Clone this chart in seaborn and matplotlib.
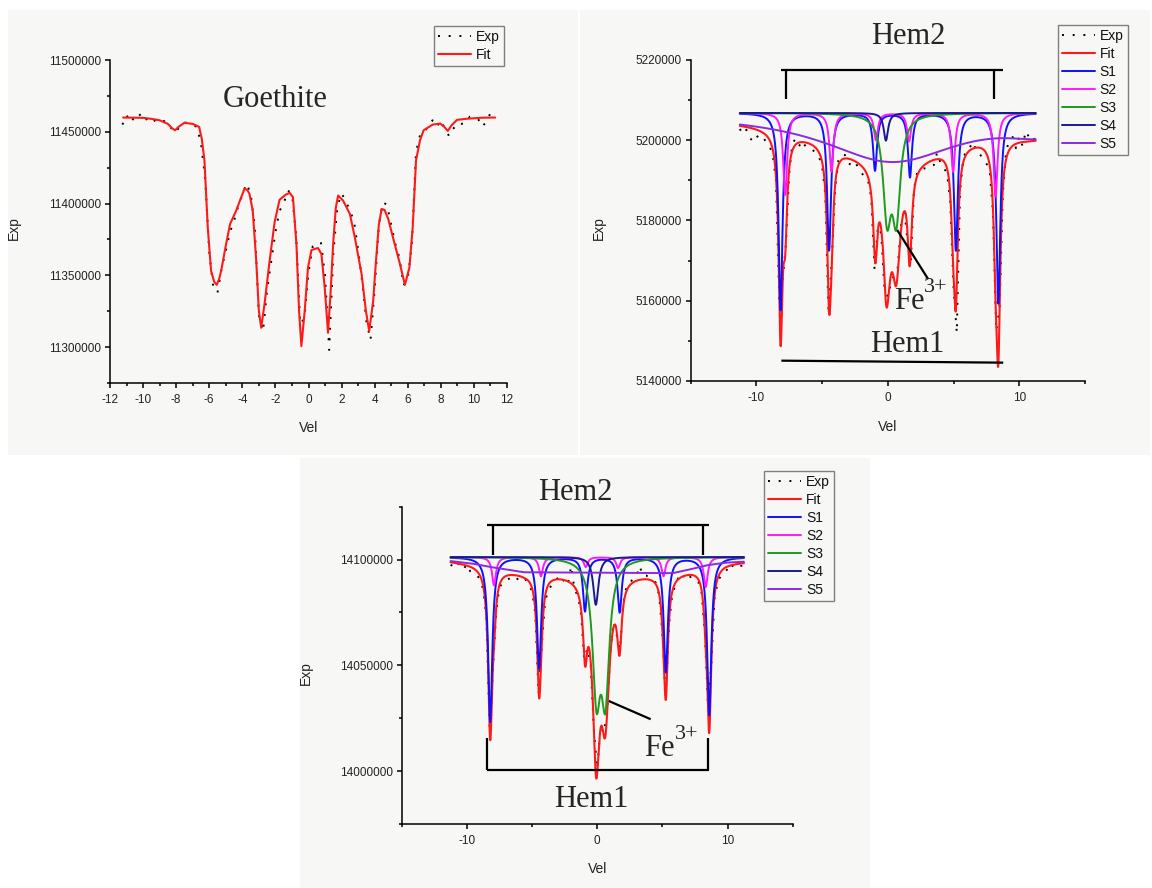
import numpy as np
import matplotlib
matplotlib.use("Agg")
import matplotlib.pyplot as plt
import seaborn as sns
from matplotlib.patches import Rectangle
from matplotlib.ticker import MultipleLocator

# ---------------- Panel A: Goethite ----------------
goe_fit_vel = [-11.21, -10.0, -9.5, -9.0, -8.5, -8.25, -8.07, -7.85, -7.51, -7.0, -6.61, -6.45,
               -6.29, -6.09, -5.89, -5.70, -5.55, -5.40, -5.28, -4.98, -4.74, -4.37, -4.10, -3.87,
               -3.70, -3.57, -3.37, -3.16, -3.00, -2.86, -2.66, -2.35, -2.05, -1.75, -1.40, -1.14,
               -0.94, -0.73, -0.57, -0.43, -0.23, -0.03, 0.18, 0.40, 0.58, 0.78, 0.98, 1.18, 1.33,
               1.49, 1.65, 1.79, 2.09, 2.50, 2.80, 3.21, 3.47, 3.67, 3.91, 4.08, 4.25, 4.42, 4.60,
               4.82, 5.13, 5.53, 5.83, 6.10, 6.30, 6.50, 6.74, 6.96, 7.50, 7.97, 8.20, 8.42, 8.65,
               8.98, 9.50, 10.5, 11.29]
goe_fit_val = [11459930, 11459700, 11459000, 11458000, 11455500, 11452500, 11451050, 11453500,
               11456200, 11455500, 11453400, 11445000, 11430070, 11383430, 11353150, 11345500,
               11343360, 11347500, 11353150, 11371820, 11385800, 11395100, 11403500, 11410280,
               11409500, 11406780, 11395100, 11360140, 11325180, 11313500, 11329850, 11360140,
               11386930, 11402600, 11406000, 11407480, 11404410, 11371820, 11325180, 11300700,
               11325180, 11355470, 11367600, 11368500, 11369000, 11364800, 11341460, 11310000,
               11336840, 11371820, 11397000, 11405600, 11402100, 11392800, 11376450, 11350830,
               11325180, 11311190, 11332170, 11360140, 11385000, 11396280, 11395500, 11389290,
               11375300, 11357810, 11343360, 11355470, 11383430, 11430070, 11444050, 11451050,
               11455000, 11455700, 11453500, 11450600, 11454500, 11458300, 11459000, 11459800,
               11459930]
goe_exp_val = [11455000, 11461500, 11456500, 11460500, 11463000, 11457500, 11459000, 11460500,
               11457000, 11456000, 11457500, 11456500, 11451500, 11449500, 11455000, 11456500,
               11456000, 11454500, 11453500, 11442000, 11418000, 11366000, 11341000, 11338000,
               11355000, 11367000, 11380000, 11388000, 11398000, 11406000, 11414000, 11407000,
               11384000, 11322000, 11311000, 11340000, 11360000, 11380000, 11395000, 11400000,
               11409000, 11407000, 11378000, 11316000, 11320000, 11352000, 11370000, 11371000,
               11373000, 11350000, 11298000, 11365000, 11398000, 11407000, 11402000, 11395000,
               11388000, 11368000, 11345000, 11318000, 11305000, 11340000, 11385000, 11401000,
               11399000, 11385000, 11372000, 11362000, 11343000, 11348000, 11372000, 11436000,
               11448000, 11449000, 11455000, 11458000, 11453500, 11458000, 11452000, 11447000,
               11452000, 11456000, 11455500, 11456000, 11460500, 11459500, 11459000, 11453500,
               11457000, 11463000, 11459000]

# velocity channels of the measured spectra (-11.25 ... 11.25 mm/s, 91 channels)
exp_vel = np.round(np.arange(-11.25, 11.26, 0.25), 2)

# ---------------- Panel B: hematite sample 1 ----------------
b_base = 5206800
b_s1_pos = [-8.15, -4.46, -0.97, 1.69, 5.18, 8.41]
b_s1_dep = [49100, 34150, 14200, 15870, 34150, 47440]
b_s2_pos = [-7.80, -4.28, -0.90, 1.62, 4.97, 8.20]
b_s2_dep = [20400, 14600, 6700, 7000, 14600, 20800]
b_s3_pos = [-0.05, 0.65]
b_s3_dep = [23950, 23950]
b_s4_pos = [-0.14]
b_s4_dep = [6900]
b_s5_pos = [0.3, 11.5]
b_s5_dep = [12000, 3500]
b_hw = {"S1": 0.18, "S2": 0.18, "S3": 0.37, "S4": 0.20, "S5": [6.4, 3.0]}
b_exp_val = [5202800, 5201500, 5202600, 5200600, 5199800, 5201200, 5200400, 5200900, 5199500,
             5198600, 5196500, 5190000, 5160500, 5165000, 5173800, 5191500, 5199500, 5200200,
             5198500, 5199900, 5198400, 5198000, 5197800, 5196800, 5196000, 5193800, 5186500,
             5156500, 5170500, 5188000, 5195000, 5196400, 5196300, 5194200, 5193900, 5194700,
             5193200, 5192000, 5190600, 5190000, 5185600, 5167500, 5178500, 5176800, 5163000,
             5161000, 5164500, 5166500, 5168000, 5178500, 5183000, 5175000, 5169500, 5188000,
             5192200, 5192300, 5193000, 5192900, 5193600, 5193800, 5196900, 5194500, 5193200,
             5191800, 5185000, 5163500, 5152000, 5187500, 5195500, 5197800, 5198300, 5199600,
             5197000, 5196500, 5195500, 5194200, 5192500, 5182000, 5152500, 5158000, 5186500,
             5197500, 5199800, 5200800, 5198000, 5200900, 5198600, 5202300, 5200700, 5201300,
             5199400]

# ---------------- Panel C: hematite sample 2 ----------------
c_base = 14101200
c_s1_pos = [-8.21, -4.46, -0.94, 1.72, 5.26, 8.59]
c_s1_dep = [77770, 52620, 25420, 25900, 54190, 74620]
c_s2_pos = [-7.92, -4.32, -0.88, 1.60, 5.08, 8.32]
c_s2_dep = [13320, 9070, 4670, 5150, 9070, 14100]
c_s3_pos = [-0.06, 0.62]
c_s3_dep = [60000, 60000]
c_s4_pos = [-0.11]
c_s4_dep = [22570]
c_s5_vel = [-11.25, -9.5, -8.0, -5.6, 5.8, 7.2, 8.5, 9.8, 11.25]
c_s5_val = [14099300, 14098000, 14096300, 14094000, 14093600, 14095500, 14097400, 14098500, 14099000]
c_hw = {"S1": 0.19, "S2": 0.18, "S3": 0.37, "S4": 0.24}
c_exp_val = [14097500, 14096800, 14099000, 14096000, 14095500, 14097800, 14094500, 14093800,
             14093000, 14090500, 14086000, 14072500, 14019500, 14048500, 14075800, 14087000,
             14089000, 14090500, 14091000, 14092000, 14090500, 14091200, 14089500, 14090500,
             14088200, 14085000, 14074500, 14036500, 14060000, 14080500, 14085500, 14088000,
             14089500, 14091500, 14089000, 14090800, 14088500, 14097000, 14086000, 14083000,
             14075500, 14053000, 14058000, 14050000, 14018500, 14001000, 14021000, 14018000,
             14028000, 14056000, 14070500, 14064000, 14057500, 14079500, 14087500, 14089500,
             14090500, 14091800, 14097000, 14092300, 14092500, 14091500, 14090500, 14089000,
             14083000, 14065000, 14035000, 14069000, 14083500, 14088000, 14092000, 14090500,
             14093500, 14091500, 14092000, 14090800, 14089500, 14084500, 14066000, 14030000,
             14050500, 14082000, 14089500, 14092800, 14094000, 14095500, 14098200, 14095800,
             14096500, 14097000, 14097200]

sub_colors = {"Fit": "#ff1a1a", "S1": "#1010ff", "S2": "#ff19ff", "S3": "#1f9a1f",
              "S4": "#1a1a8c", "S5": "#8a2be2"}


def absorption(v, pos, dep, hw):
    hws = hw if isinstance(hw, (list, tuple)) else [hw] * len(pos)
    total = np.zeros_like(v, dtype=float)
    for p, d, h in zip(pos, dep, hws):
        total += d / (1.0 + ((v - p) / h) ** 2)
    return total


vfine = np.linspace(-11.25, 11.25, 2251)

bS = {
    "S1": absorption(vfine, b_s1_pos, b_s1_dep, b_hw["S1"]),
    "S2": absorption(vfine, b_s2_pos, b_s2_dep, b_hw["S2"]),
    "S3": absorption(vfine, b_s3_pos, b_s3_dep, b_hw["S3"]),
    "S4": absorption(vfine, b_s4_pos, b_s4_dep, b_hw["S4"]),
    "S5": absorption(vfine, b_s5_pos, b_s5_dep, b_hw["S5"]),
}
b_fit = b_base - sum(bS.values())

cS = {
    "S1": absorption(vfine, c_s1_pos, c_s1_dep, c_hw["S1"]),
    "S2": absorption(vfine, c_s2_pos, c_s2_dep, c_hw["S2"]),
    "S3": absorption(vfine, c_s3_pos, c_s3_dep, c_hw["S3"]),
    "S4": absorption(vfine, c_s4_pos, c_s4_dep, c_hw["S4"]),
}
c_s5_line = np.interp(vfine, c_s5_vel, c_s5_val)
c_fit = c_s5_line - sum(cS.values())

# ---------------- Figure ----------------
sns.set_theme(style="ticks")
plt.rcParams["font.family"] = ["Liberation Sans", "DejaVu Sans"]
plt.rcParams["axes.linewidth"] = 1.1
plt.rcParams["axes.unicode_minus"] = False

W, H = 1152, 888
fig = plt.figure(figsize=(W / 100, H / 100), dpi=100)
fig.patch.set_facecolor("white")
bg = "#f7f8f5"
for (x0, y0, x1, y1) in [(8, 10, 578, 455), (580, 10, 1150, 455), (300, 458, 870, 888)]:
    fig.patches.append(Rectangle((x0 / W, 1 - y1 / H), (x1 - x0) / W, (y1 - y0) / H,
                                 transform=fig.transFigure, facecolor=bg, edgecolor="none",
                                 zorder=-10))


def px_axes(l, r, b, t):
    a = fig.add_axes([l / W, 1 - b / H, (r - l) / W, (b - t) / H])
    a.set_zorder(5)
    return a


ax1 = px_axes(110, 507, 383, 60)
ax2 = px_axes(690.5, 1085, 381, 60)
ax3 = px_axes(401.7, 792.8, 824, 506.7)

serif = ["Liberation Serif", "DejaVu Serif"]
EXP_LS = (0, (1, 4.5))


def style_axes(ax, xlim, ylim, xmaj, xmin, ymaj, ymin, ylab_xy, xlab_xy):
    ax.set_facecolor("none")
    ax.set_xlim(*xlim)
    ax.set_ylim(*ylim)
    ax.xaxis.set_major_locator(MultipleLocator(xmaj))
    ax.xaxis.set_minor_locator(MultipleLocator(xmin))
    ax.yaxis.set_major_locator(MultipleLocator(ymaj))
    ax.yaxis.set_minor_locator(MultipleLocator(ymin))
    ax.ticklabel_format(axis="y", style="plain", useOffset=False)
    for s in ["top", "right"]:
        ax.spines[s].set_visible(False)
    for s in ["left", "bottom"]:
        ax.spines[s].set_color("black")
        ax.spines[s].set_linewidth(1.1)
    ax.tick_params(which="major", direction="out", length=3.8, width=1.1, colors="black",
                   labelsize=8.5, labelcolor="#222222")
    ax.tick_params(which="minor", direction="out", length=2.2, width=1.1, colors="black")
    ax.tick_params(axis="x", which="major", pad=4)
    ax.tick_params(axis="y", which="major", pad=2.5)
    ax.set_xlabel("Vel", fontsize=10, color="#222222")
    ax.set_ylabel("Exp", fontsize=10, color="#222222")
    ax.yaxis.set_label_coords(*ylab_xy)
    ax.xaxis.set_label_coords(*xlab_xy)


def add_legend(ax, anchor_px):
    leg = ax.legend(loc="upper left", bbox_to_anchor=(anchor_px[0] / W, 1 - anchor_px[1] / H),
                    bbox_transform=fig.transFigure, borderaxespad=0, frameon=True, fancybox=False,
                    fontsize=10, handlelength=2.35, handletextpad=0.35, labelspacing=0.28,
                    borderpad=0.3, framealpha=1)
    leg.get_frame().set_edgecolor("#808080")
    leg.get_frame().set_linewidth(1.0)
    leg.get_frame().set_facecolor(bg)
    for t in leg.get_texts():
        t.set_color("#111111")
    return leg


def fe3(ax, x, y):
    fe = ax.text(x, y, "Fe", family=serif, fontsize=22, ha="left", va="center")
    ax.annotate("3+", xy=(1.0, 0.98), xycoords=fe, family=serif, fontsize=16,
                ha="left", va="center")


# ---- Panel A ----
sns.lineplot(x=exp_vel, y=goe_exp_val, ax=ax1, color="black", lw=1.4, label="Exp",
             linestyle=EXP_LS, sort=False, estimator=None)
sns.lineplot(x=goe_fit_vel, y=goe_fit_val, ax=ax1, color=sub_colors["Fit"], lw=1.5, label="Fit",
             sort=False, estimator=None)
style_axes(ax1, (-12, 12), (11275000, 11500000), 2, 1, 50000, 25000, (-0.2236, 0.48), (0.5, -0.1167))
add_legend(ax1, (434, 26))
ax1.text(-2.0, 11472700, "Goethite", family=serif, fontsize=22, ha="center", va="center")

# ---- Panel B ----
sns.lineplot(x=exp_vel, y=b_exp_val, ax=ax2, color="black", lw=1.4, label="Exp",
             linestyle=EXP_LS, sort=False, estimator=None)
sns.lineplot(x=vfine, y=b_fit, ax=ax2, color=sub_colors["Fit"], lw=1.5, label="Fit",
             sort=False, estimator=None)
for k in ["S1", "S2", "S3", "S4", "S5"]:
    sns.lineplot(x=vfine, y=b_base - bS[k], ax=ax2, color=sub_colors[k], lw=1.4, label=k,
                 sort=False, estimator=None)
style_axes(ax2, (-15, 15), (5140000, 5220000), 10, 5, 20000, 10000, (-0.2134, 0.477), (0.5, -0.1215))
add_legend(ax2, (1058, 25))
kw = dict(color="black", lw=1.6, clip_on=False, solid_capstyle="butt")
ax2.plot([-8.09, 8.78], [5217430, 5217430], **kw)
ax2.plot([-7.75, -7.75], [5217430, 5210200], **kw)
ax2.plot([8.09, 8.09], [5217430, 5210200], **kw)
ax2.plot([-8.09, 8.78], [5145070, 5144570], **kw)
ax2.plot([0.72, 3.08], [5177630, 5165350], **kw)
ax2.text(1.57, 5225800, "Hem2", family=serif, fontsize=22, ha="center", va="center", clip_on=False)
ax2.text(1.49, 5148980, "Hem1", family=serif, fontsize=22, ha="center", va="center")
fe3(ax2, 0.45, 5159770)

# ---- Panel C ----
sns.lineplot(x=exp_vel, y=c_exp_val, ax=ax3, color="black", lw=1.4, label="Exp",
             linestyle=EXP_LS, sort=False, estimator=None)
sns.lineplot(x=vfine, y=c_fit, ax=ax3, color=sub_colors["Fit"], lw=1.5, label="Fit",
             sort=False, estimator=None)
for k in ["S1", "S2", "S3", "S4"]:
    sns.lineplot(x=vfine, y=c_base - cS[k], ax=ax3, color=sub_colors[k], lw=1.4, label=k,
                 sort=False, estimator=None)
sns.lineplot(x=c_s5_vel, y=c_s5_val, ax=ax3, color=sub_colors["S5"], lw=1.4, label="S5",
             sort=False, estimator=None)
style_axes(ax3, (-15, 15), (13975000, 14125000), 10, 5, 50000, 25000, (-0.2268, 0.475), (0.5, -0.1207))
add_legend(ax3, (764.3, 471))
ax3.plot([-8.42, 8.57], [14116170, 14116170], **kw)
ax3.plot([-8.0, -8.0], [14116170, 14102030], **kw)
ax3.plot([8.08, 8.08], [14116170, 14102030], **kw)
ax3.plot([-8.42, 8.57], [14000470, 14000470], **kw)
ax3.plot([-8.42, -8.42], [14000470, 14015560], **kw)
ax3.plot([8.51, 8.51], [14000470, 14015560], **kw)
ax3.plot([0.88, 4.10], [14033170, 14024530], **kw)
ax3.text(-1.68, 14131900, "Hem2", family=serif, fontsize=22, ha="center", va="center", clip_on=False)
ax3.text(-0.48, 13986460, "Hem1", family=serif, fontsize=22, ha="center", va="center")
fe3(ax3, 3.59, 14010800)

fig.savefig("out.png", dpi=100, facecolor="white")
